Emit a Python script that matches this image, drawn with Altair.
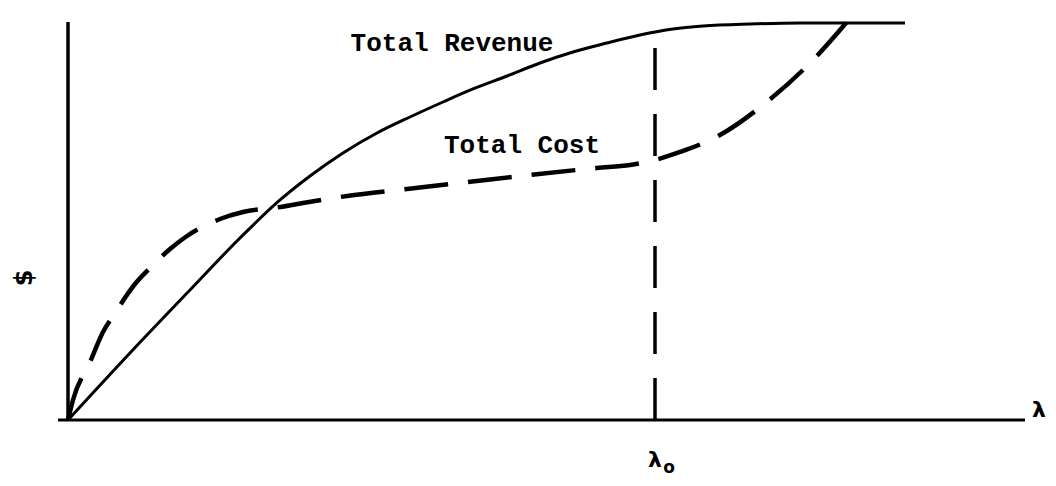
import altair as alt
import pandas as pd

# ---- data (arbitrary units: lambda_0 = 100, top of revenue ~ 100) ----
rev_x = [0, 10.56, 20.78, 29.30, 36.12, 41.23, 46.85, 52.64, 58.26, 63.88, 68.99, 74.79, 80.41,
         86.03, 91.82, 97.44, 103.07, 108.18, 116.18, 124.70, 142.59]
rev_y = [0, 16.83, 32.66, 45.73, 55.28, 61.31, 67.09, 72.11, 76.13, 79.90, 83.17, 86.43, 89.70,
         92.46, 94.72, 96.73, 98.24, 98.99, 99.50, 99.75, 99.75]

cost_x = [0, 0.85, 3.75, 5.96, 8.01, 11.41, 13.97, 17.38, 20.27, 25.89, 29.81, 36.12, 40.03, 47.53,
          57.75, 66.78, 78.71, 90.12, 95.74, 100.0, 104.26, 111.07, 118.40, 126.41, 134.41]
cost_y = [0, 5.03, 14.57, 22.11, 26.88, 34.17, 38.19, 42.96, 46.23, 50.50, 52.26, 53.52, 54.52, 56.28,
          58.04, 59.55, 61.56, 63.32, 64.07, 65.33, 67.34, 71.61, 79.15, 89.70, 103.02]

lambda0 = 100.0
lambda0_top = 97.49
yaxis_top = 100.0
xaxis_from, xaxis_to = -1.70, 163.03

labels = ["Total Revenue", "Total Cost"]

# ---- layout ----
W, H = 1040, 470
KX, KY = 5.87, 3.98          # pixels per unit
OX, OY = 60, 412             # origin in plot-area pixels
xdom = [-OX / KX, (W - OX) / KX]
ydom = [-(H - OY) / KY, OY / KY]

xs = alt.Scale(domain=xdom, nice=False, zero=False)
ys = alt.Scale(domain=ydom, nice=False, zero=False)

rev = pd.DataFrame({"x": rev_x, "y": rev_y, "o": range(len(rev_x))})
cost = pd.DataFrame({"x": cost_x, "y": cost_y, "o": range(len(cost_x))})

X = lambda: alt.X("x:Q", scale=xs, axis=None)
Y = lambda: alt.Y("y:Q", scale=ys, axis=None)

rev_line = alt.Chart(rev).mark_line(color="black", strokeWidth=3, interpolate="monotone").encode(
    x=X(), y=Y(), order="o:Q")
cost_line = alt.Chart(cost).mark_line(color="black", strokeWidth=4.5, strokeDash=[44, 20],
                                      interpolate="monotone").encode(x=X(), y=Y(), order="o:Q")

vaxis = alt.Chart(pd.DataFrame({"x": [0], "y": [0], "y2": [yaxis_top]})).mark_rule(
    color="black", strokeWidth=3.5).encode(x=X(), y=Y(), y2="y2:Q")
haxis = alt.Chart(pd.DataFrame({"x": [xaxis_from], "x2": [xaxis_to], "y": [0]})).mark_rule(
    color="black", strokeWidth=3).encode(x=X(), x2="x2:Q", y=Y())
vdash = alt.Chart(pd.DataFrame({"x": [lambda0], "y": [0], "y2": [lambda0_top]})).mark_rule(
    color="black", strokeWidth=3.5, strokeDash=[42, 24]).encode(x=X(), y=Y(), y2="y2:Q")

txt = pd.DataFrame({"t": labels, "px": [444, 514], "py": [35, 137]})
label_text = alt.Chart(txt).mark_text(font="Liberation Mono", fontWeight="bold", fontSize=26,
                                      color="black", baseline="middle", align="center").encode(
    x=alt.X("px:Q", scale=None), y=alt.Y("py:Q", scale=None), text="t:N")

dollar = alt.Chart(pd.DataFrame({"t": ["$"]})).mark_text(
    font="DejaVu Sans", fontWeight="bold", fontSize=24, angle=270, color="black",
    baseline="middle", align="center").encode(x=alt.value(17), y=alt.value(270), text="t:N")
lam = alt.Chart(pd.DataFrame({"t": ["λ"]})).mark_text(
    font="DejaVu Sans", fontWeight="bold", fontSize=22, color="black",
    baseline="middle", align="center").encode(x=alt.value(1031), y=alt.value(402), text="t:N")
lam0 = alt.Chart(pd.DataFrame({"t": ["λ"]})).mark_text(
    font="DejaVu Sans", fontWeight="bold", fontSize=22, color="black",
    baseline="middle", align="center").encode(x=alt.value(647), y=alt.value(452), text="t:N")
sub0 = alt.Chart(pd.DataFrame({"t": ["o"]})).mark_text(
    font="DejaVu Sans", fontWeight="bold", fontSize=17, color="black",
    baseline="middle", align="center").encode(x=alt.value(661), y=alt.value(460), text="t:N")

chart = alt.layer(vaxis, haxis, vdash, rev_line, cost_line, label_text, dollar, lam, lam0, sub0).properties(
    width=W, height=H, padding=0, autosize="none", background="white"
).configure_view(stroke=None)

chart.save("out.html", embed_options={"renderer": "svg", "actions": False})
